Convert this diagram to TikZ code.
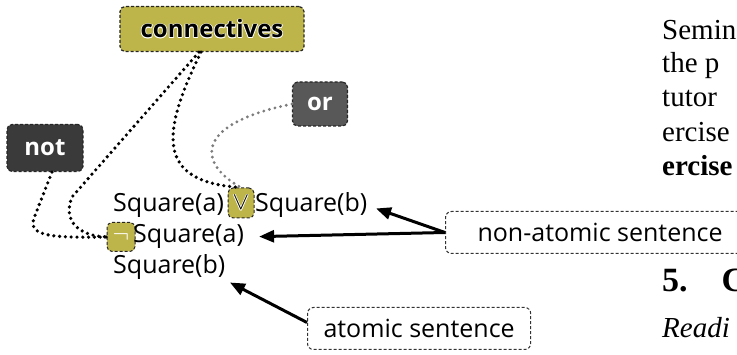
\documentclass[tikz,border=0pt]{standalone}
\usepackage{fontspec}
\newfontfamily\labelfont{Open Sans}
\newfontfamily\pagefont{Liberation Serif}
\usetikzlibrary{arrows.meta}

\definecolor{olivebox}{RGB}{190,181,74}
\definecolor{notgray}{RGB}{58,58,58}
\definecolor{orgray}{RGB}{88,88,88}
\definecolor{linkgray}{RGB}{125,125,125}

% text with a soft halo behind it
\newcommand\glowtext[2]{\leavevmode
  \foreach \gx/\gy in {0.7/0,-0.7/0,0/0.7,0/-0.7,0.5/0.5,-0.5/0.5,0.5/-0.5,-0.5/-0.5}{%
    \rlap{\kern\gx pt\raisebox{\gy pt}{\textcolor{#1}{#2}}}}\textcolor{black}{#2}}

\tikzset{
  tag/.style={draw=black!85, dash pattern=on 3pt off 2pt, line width=1.2pt, rounded corners=5pt,
    font=\labelfont\bfseries\fontsize{24}{30}\selectfont, inner sep=0pt},
  formula/.style={font=\labelfont\fontsize{25}{30}\selectfont, inner sep=0pt},
  note/.style={draw=black!80, dash pattern=on 3pt off 2pt, line width=1pt, rounded corners=6pt,
    fill=white, font=\labelfont\fontsize{25}{30}\selectfont, minimum height=42pt, anchor=west},
  ptr/.style={line width=3pt, -{Triangle[length=15pt,width=12pt]}},
  link/.style={line width=3.6pt, dash pattern=on 0pt off 5.8pt, line cap=round},
  pagetext/.style={font=\pagefont\fontsize{29}{34}\selectfont, inner sep=0pt, anchor=base west}
}

\begin{document}
\begin{tikzpicture}[x=1pt,y=-1pt]
  \useasboundingbox (0,0) rectangle (737,355);
  \clip (0,0) rectangle (737,355);

  % Connective labels
  \node[tag, fill=olivebox, minimum width=184pt, minimum height=45pt] (connectives) at (212,29) {\glowtext{white}{connectives}};
  \node[tag, fill=notgray, text=white, minimum width=76pt, minimum height=47pt] (notlabel) at (45,148) {not};
  \node[tag, fill=orgray, text=white, minimum width=55pt, minimum height=44pt] (orlabel) at (320,104) {or};

  % Sentences
  \node[formula, anchor=base west] (sqa) at (113,212) {Square(a)};
  \node[tag, line width=1pt, fill=olivebox, minimum width=26pt, minimum height=30pt] (veebox) at (241,203) {\glowtext{white}{$\vee$}};
  \node[formula, anchor=base west] (sqb) at (255,212) {Square(b)};
  \node[tag, line width=1pt, fill=olivebox, minimum width=28pt, minimum height=29pt] (negbox) at (121,237) {\textcolor{white}{$\neg$}};
  \node[formula, anchor=base west] (sqanot) at (133,243) {Square(a)};
  \node[formula, anchor=base west] (sqbatom) at (113,274) {Square(b)};

  % Sentence kinds
  \node[note, inner xsep=32pt] (nonatomic) at (445,232.5) {non-atomic sentence};
  \node[note, inner xsep=16pt] (atomic) at (307,328.5) {atomic sentence};

  % Dotted links
  \draw[link] ([xshift=-13pt]connectives.south) -- (72,197) .. controls (62,222) and (80,236) .. (negbox.west);
  \draw[link] ([xshift=-11pt]connectives.south) .. controls (163,130) and (153,182) .. (veebox.north);
  \draw[link] ([xshift=7pt]notlabel.south) -- (34,218) .. controls (28,236) and (50,238) .. (negbox.west);
  \draw[link, draw=linkgray, line width=3.2pt] (orlabel.west) .. controls (190,125) and (200,165) .. (veebox.north);

  % Arrows
  \draw[ptr, shorten >=9pt] (nonatomic.west) -- (sqb.east);
  \draw[ptr, shorten >=15pt] (nonatomic.west) -- (sqanot.east);
  \draw[ptr, shorten >=5pt] ([yshift=6pt]atomic.west) -- (sqbatom.south east);

  % Page text behind
  \node[pagetext] (line1) at (662,40) {Semin};
  \node[pagetext] (line2) at (662,73) {the p};
  \node[pagetext] (line3) at (662,107) {tutor};
  \node[pagetext] (line4) at (662,142) {ercise};
  \node[pagetext, font=\pagefont\bfseries\fontsize{29}{34}\selectfont] (line5) at (662,176) {ercise};
  \node[pagetext, font=\pagefont\bfseries\fontsize{34}{40}\selectfont] (heading) at (662,292) {5.\hspace{34pt}C};
  \node[pagetext, font=\pagefont\itshape\fontsize{29}{34}\selectfont] (line6) at (662,338) {Readi};
\end{tikzpicture}
\end{document}
